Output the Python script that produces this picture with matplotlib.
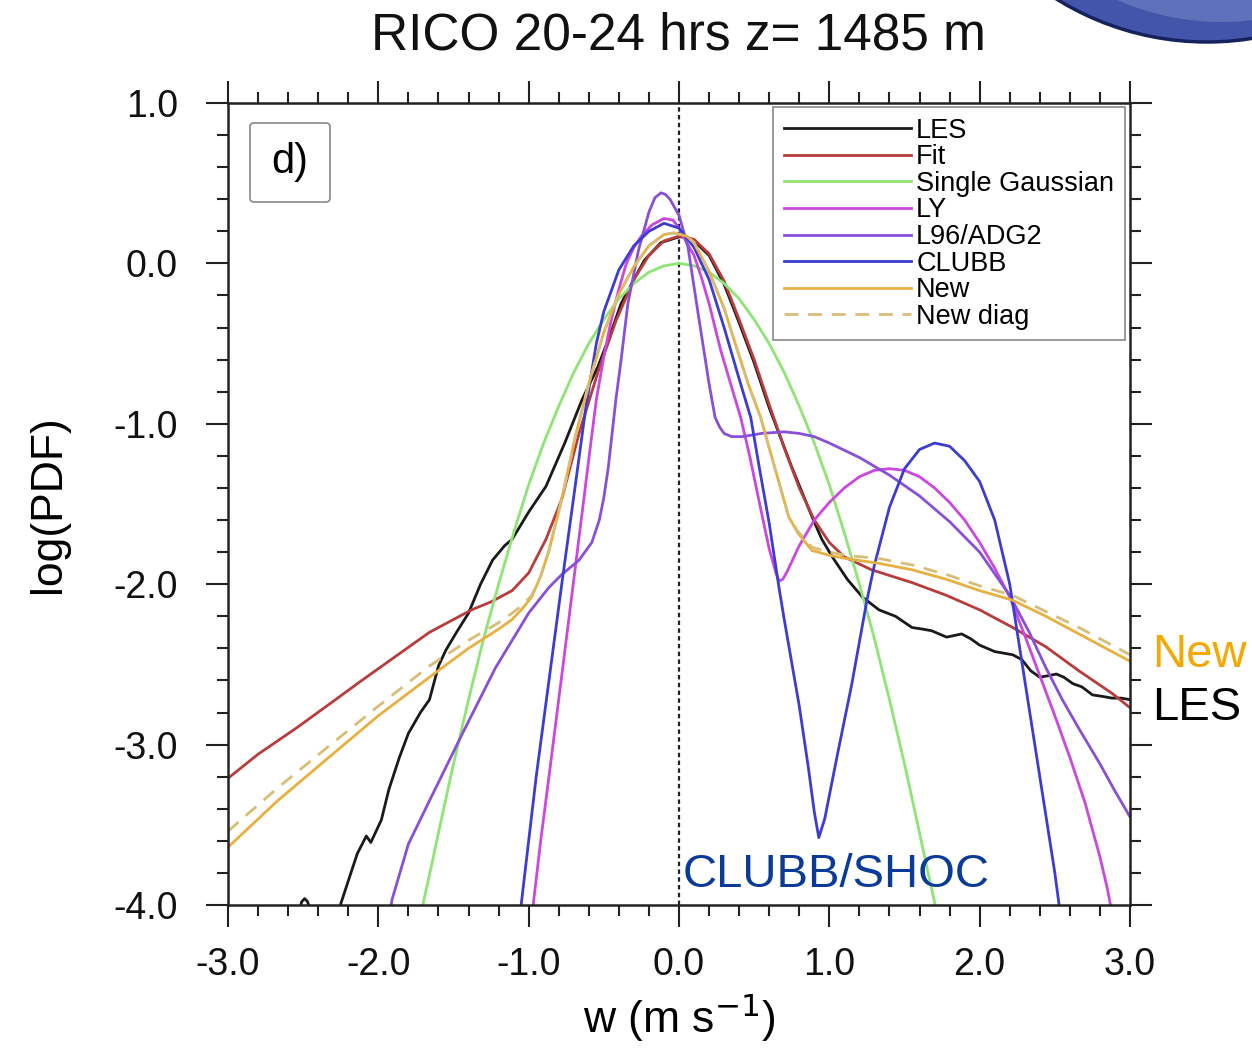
import numpy as np
import matplotlib
matplotlib.use("Agg")
import matplotlib.pyplot as plt
from matplotlib.ticker import MultipleLocator, FormatStrFormatter
from matplotlib.patches import Ellipse, FancyBboxPatch

plt.rcParams['font.family'] = ['Liberation Sans', 'DejaVu Sans']
plt.rcParams['axes.unicode_minus'] = False

# ---- data (w in m/s, log10 PDF) ----
nan = np.nan

les_w = [-2.53, -2.51, -2.49, -2.47, -2.45, nan,
         -2.27, -2.20, -2.14, -2.08, -2.05, -2.02, -1.98, -1.93, -1.86, -1.80,
         -1.72, -1.66, -1.60, -1.55, -1.48, -1.40, -1.32, -1.24, -1.16, -1.11,
         -1.00, -0.885, -0.76, -0.645, -0.54, -0.46, -0.385, -0.30, -0.23, -0.12,
         0.0, 0.05, 0.10, 0.20, 0.30, 0.40, 0.50, 0.60, 0.665, 0.75, 0.885, 0.95,
         1.02, 1.12, 1.22, 1.33, 1.44, 1.55, 1.62, 1.68, 1.78, 1.88, 1.94, 2.00,
         2.10, 2.22, 2.28, 2.34, 2.40, 2.46, 2.51, 2.56, 2.62, 2.68, 2.75, 2.82,
         2.88, 2.94, 3.00]
les_p = [-4.05, -3.98, -3.96, -3.98, -4.05, nan,
         -4.05, -3.85, -3.68, -3.57, -3.61, -3.55, -3.47, -3.28, -3.08, -2.93,
         -2.80, -2.72, -2.51, -2.41, -2.30, -2.18, -2.00, -1.85, -1.76, -1.72,
         -1.55, -1.39, -1.12, -0.85, -0.645, -0.45, -0.25, -0.10, 0.02, 0.13,
         0.165, 0.165, 0.14, 0.05, -0.13, -0.37, -0.62, -0.90, -1.06, -1.27, -1.58, -1.72,
         -1.83, -1.97, -2.08, -2.16, -2.20, -2.27, -2.28, -2.29, -2.33, -2.31, -2.34, -2.38,
         -2.42, -2.44, -2.47, -2.54, -2.58, -2.57, -2.56, -2.58, -2.62, -2.64, -2.69, -2.70,
         -2.71, -2.71, -2.72]

fit_w = [-3.0, -2.8, -2.55, -2.3, -2.11, -1.9, -1.66, -1.5, -1.38, -1.25, -1.11,
         -1.0, -0.885, -0.78, -0.665, -0.54, -0.42, -0.3, -0.2, -0.1, 0.0, 0.1,
         0.2, 0.3, 0.4, 0.5, 0.6, 0.7, 0.8, 0.9, 1.0, 1.1, 1.28, 1.55, 1.78, 2.0,
         2.22, 2.44, 2.66, 2.88, 3.0]
fit_p = [-3.21, -3.06, -2.90, -2.73, -2.60, -2.46, -2.30, -2.22, -2.16, -2.11, -2.04,
         -1.93, -1.72, -1.47, -1.06, -0.68, -0.36, -0.10, 0.05, 0.14, 0.17, 0.15,
         0.06, -0.11, -0.35, -0.60, -0.88, -1.15, -1.40, -1.60, -1.74, -1.83, -1.91,
         -1.99, -2.07, -2.16, -2.27, -2.39, -2.54, -2.68, -2.77]

gauss_w = [-1.74, -1.65, -1.6, -1.5, -1.4, -1.3, -1.2, -1.1, -1.0, -0.9, -0.8, -0.7,
           -0.6, -0.5, -0.4, -0.3, -0.2, -0.1, 0.0, 0.1, 0.2, 0.3, 0.4, 0.5, 0.6,
           0.7, 0.8, 0.9, 1.0, 1.1, 1.2, 1.3, 1.4, 1.5, 1.6, 1.65, 1.74]
gauss_p = [-4.15, -3.77, -3.55, -3.12, -2.72, -2.34, -2.0, -1.68, -1.38, -1.12, -0.89,
           -0.68, -0.50, -0.35, -0.22, -0.125, -0.055, -0.015, 0.0, -0.015, -0.055,
           -0.125, -0.22, -0.35, -0.50, -0.68, -0.89, -1.12, -1.38, -1.68, -2.0, -2.34,
           -2.72, -3.12, -3.55, -3.77, -4.15]

ly_w = [-0.99, -0.97, -0.92, -0.865, -0.78, -0.685, -0.6, -0.55, -0.5, -0.45, -0.4,
        -0.35, -0.3, -0.25, -0.18, -0.1, -0.04, 0.0, 0.05, 0.1, 0.15, 0.2, 0.277,
        0.34, 0.41, 0.47, 0.53, 0.6, 0.645, 0.665, 0.69, 0.72, 0.8, 0.9, 1.0, 1.1,
        1.2, 1.3, 1.4, 1.5, 1.6, 1.7, 1.8, 1.9, 2.0, 2.1, 2.2, 2.3, 2.4, 2.5, 2.6,
        2.7, 2.8, 2.85, 2.88]
ly_p = [-4.15, -4.0, -3.60, -3.2, -2.57, -1.86, -1.22, -0.85, -0.58, -0.35, -0.16,
        0.0, 0.10, 0.17, 0.24, 0.28, 0.27, 0.22, 0.13, 0.05, -0.09, -0.25, -0.54,
        -0.74, -0.96, -1.20, -1.47, -1.78, -1.93, -1.98, -1.97, -1.92, -1.76, -1.60,
        -1.49, -1.40, -1.33, -1.29, -1.28, -1.29, -1.33, -1.40, -1.49, -1.60, -1.74,
        -1.90, -2.08, -2.32, -2.57, -2.82, -3.08, -3.36, -3.70, -3.90, -4.05]

l96_w = [-1.93, -1.91, -1.80, -1.66, -1.44, -1.22, -1.0, -0.865, -0.78, -0.665, -0.58,
         -0.53, -0.5, -0.47, -0.42, -0.385, -0.34, -0.27, -0.2, -0.16, -0.12, -0.09,
         -0.06, -0.03, 0.0, 0.06, 0.13, 0.2, 0.24, 0.27, 0.3, 0.35, 0.42, 0.55, 0.7,
         0.8, 0.9, 1.0, 1.2, 1.4, 1.6, 1.8, 2.0, 2.2, 2.33, 2.44, 2.55, 2.66, 2.8,
         2.9, 3.0]
l96_p = [-4.1, -3.97, -3.62, -3.35, -2.93, -2.52, -2.18, -2.02, -1.94, -1.85, -1.74,
         -1.60, -1.46, -1.27, -0.85, -0.60, -0.25, 0.08, 0.32, 0.41, 0.44, 0.43,
         0.40, 0.35, 0.30, 0.10, -0.33, -0.75, -0.96, -1.02, -1.06, -1.08, -1.08,
         -1.06, -1.05, -1.06, -1.08, -1.12, -1.21, -1.32, -1.45, -1.61, -1.80, -2.07,
         -2.30, -2.52, -2.72, -2.90, -3.12, -3.29, -3.45]

clubb_w = [-1.07, -1.05, -0.95, -0.865, -0.78, -0.685, -0.62, -0.55, -0.5, -0.4,
           -0.3, -0.2, -0.1, 0.0, 0.1, 0.2, 0.3, 0.4, 0.477, 0.53, 0.6, 0.665, 0.7,
           0.8, 0.86, 0.9, 0.93, 0.97, 1.05, 1.15, 1.2, 1.25, 1.3, 1.4, 1.5, 1.6,
           1.7, 1.8, 1.9, 2.0, 2.1, 2.2, 2.3, 2.4, 2.5, 2.55]
clubb_p = [-4.15, -4.0, -3.2, -2.6, -2.0, -1.35, -0.90, -0.50, -0.30, -0.04,
           0.11, 0.20, 0.25, 0.22, 0.10, -0.10, -0.40, -0.72, -0.96, -1.25, -1.62,
           -2.02, -2.22, -2.76, -3.14, -3.42, -3.58, -3.46, -3.08, -2.62, -2.36,
           -2.10, -1.88, -1.52, -1.28, -1.16, -1.12, -1.14, -1.23, -1.36, -1.60,
           -2.00, -2.60, -3.20, -3.80, -4.15]

new_w = [-3.0, -2.67, -2.33, -2.0, -1.66, -1.4, -1.2, -1.11, -1.04, -0.98, -0.92,
         -0.865, -0.78, -0.685, -0.6, -0.5, -0.4, -0.3, -0.2, -0.1, -0.03, 0.05,
         0.1, 0.2, 0.3, 0.388, 0.46, 0.543, 0.63, 0.73, 0.79, 0.885, 1.0, 1.11,
         1.33, 1.55, 1.78, 2.0, 2.22, 2.44, 2.66, 2.88, 3.0]
new_p = [-3.64, -3.35, -3.08, -2.82, -2.58, -2.40, -2.28, -2.22, -2.15, -2.08, -1.95,
         -1.79, -1.47, -1.06, -0.75, -0.43, -0.19, -0.02, 0.11, 0.18, 0.19, 0.17,
         0.13, -0.05, -0.28, -0.54, -0.75, -0.96, -1.25, -1.58, -1.68, -1.79, -1.82, -1.84,
         -1.87, -1.91, -1.97, -2.04, -2.10, -2.20, -2.31, -2.42, -2.48]
newdiag_p = [-3.54, -3.27, -3.01, -2.76, -2.51, -2.35, -2.24, -2.18, -2.13, -2.07, -1.95,
             -1.79, -1.47, -1.06, -0.75, -0.43, -0.19, -0.02, 0.11, 0.18, 0.19, 0.17,
             0.13, -0.05, -0.28, -0.54, -0.75, -0.96, -1.25, -1.58, -1.67, -1.77, -1.80, -1.82,
             -1.84, -1.88, -1.94, -2.01, -2.07, -2.17, -2.27, -2.38, -2.44]

series = [
    ("LES", les_w, les_p, "#1a1a1a", "-"),
    ("Fit", fit_w, fit_p, "#b83c3c", "-"),
    ("Single Gaussian", gauss_w, gauss_p, "#8ee474", "-"),
    ("LY", ly_w, ly_p, "#cc46e0", "-"),
    ("L96/ADG2", l96_w, l96_p, "#8850d8", "-"),
    ("CLUBB", clubb_w, clubb_p, "#3c3cd4", "-"),
    ("New", new_w, new_p, "#e8b040", "-"),
    ("New diag", new_w, newdiag_p, "#d8bd78", "--"),
]

W, H = 1252, 1052
fig = plt.figure(figsize=(W / 100, H / 100), dpi=100)
ax = fig.add_axes([228 / W, 1 - 905 / H, 902 / W, 802 / H])

for name, xs, ys, col, ls in series:
    kw = dict(dashes=(5, 3.5)) if ls == "--" else {}
    ax.plot(xs, ys, color=col, lw=2.0, label=name, solid_joinstyle='round', **kw)

ax.axvline(0.0, color="#222222", lw=1.6, dashes=(2, 1.5), zorder=1)

ax.set_xlim(-3, 3)
ax.set_ylim(-4, 1)
ax.xaxis.set_major_locator(MultipleLocator(1.0))
ax.xaxis.set_minor_locator(MultipleLocator(0.2))
ax.yaxis.set_major_locator(MultipleLocator(1.0))
ax.yaxis.set_minor_locator(MultipleLocator(0.2))
ax.xaxis.set_major_formatter(FormatStrFormatter('%.1f'))
ax.yaxis.set_major_formatter(FormatStrFormatter('%.1f'))
ax.tick_params(which='both', direction='out', top=True, right=True,
               width=1.5, colors='#222222', labelcolor='#111111')
ax.tick_params(which='major', length=16, labelsize=27)
ax.tick_params(axis='x', which='major', pad=14)
ax.tick_params(axis='y', which='major', pad=20)
ax.tick_params(which='minor', length=8)
for sp in ax.spines.values():
    sp.set_linewidth(1.8)
    sp.set_color('#222222')

ax.set_xlabel("w (m s$^{\\mathrm{-1}}$)", fontsize=32, labelpad=6)
ax.set_ylabel("log(PDF)", fontsize=32, labelpad=32)
fig.text(678 / W, 1 - 50 / H, "RICO 20-24 hrs z= 1485 m", fontsize=37,
         ha='center', va='baseline', color='#111111')

leg = ax.legend(loc='upper right', bbox_to_anchor=((1125 - 228) / 902, (905 - 107) / 802),
                borderaxespad=0, fontsize=19.5, handlelength=4.7, handletextpad=0.18,
                labelspacing=0.02, borderpad=0.4, fancybox=False, framealpha=1,
                edgecolor='#888888')
leg.get_frame().set_linewidth(1.2)

# panel label box
ax.add_patch(FancyBboxPatch((250, H - 202), 80, 79, boxstyle="round,pad=0,rounding_size=4",
                            transform=None, fill=False, edgecolor='#888888', lw=1.2))
fig.text(290 / W, 1 - 162 / H, "d)", fontsize=30, ha='center', va='center')

# annotations
fig.text(1152 / W, 1 - 667 / H, "New", fontsize=34, color='#f5a800', va='baseline')
fig.text(1152 / W, 1 - 720 / H, "LES", fontsize=34, color='black', va='baseline')
fig.text(683 / W, 1 - 887 / H, "CLUBB/SHOC", fontsize=34, color='#0a3a9a', va='baseline')

# globe in the corner
globe = Ellipse((1207 / W, 1 + 243 / H), 2 * 285 / W, 2 * 285 / H,
                transform=fig.transFigure, facecolor='#4255aa',
                edgecolor='#16225e', lw=2.5, clip_on=False)
fig.add_artist(globe)
glow = Ellipse((1222 / W, 1 + 240 / H), 2 * 262 / W, 2 * 262 / H,
               transform=fig.transFigure, facecolor='#a8b4e4', alpha=0.3,
               edgecolor='none', clip_on=False)
fig.add_artist(glow)

fig.savefig("out.png", dpi=100)
